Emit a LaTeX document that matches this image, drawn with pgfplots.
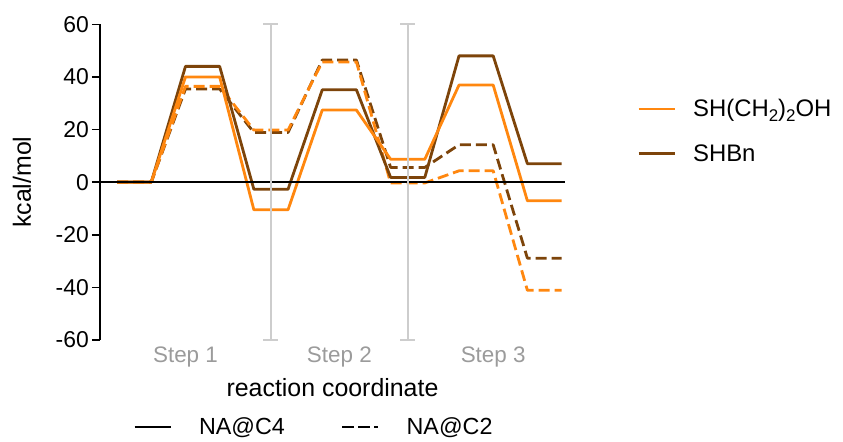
\documentclass[border=0pt]{standalone}
\usepackage{fontspec}
\setmainfont{Liberation Sans}
\usepackage{pgfplots}
\pgfplotsset{compat=1.18}
\definecolor{corange}{RGB}{255,135,15}
\definecolor{cbrown}{RGB}{125,68,10}
\definecolor{cgray}{RGB}{205,205,205}
\definecolor{tgray}{RGB}{155,155,155}
\newcommand\fTick{\fontsize{23}{26}\selectfont}
\newcommand\fStep{\fontsize{22.5}{26}\selectfont}
\newcommand\fLab{\fontsize{25}{29}\selectfont}
\newcommand\fLegA{\fontsize{24}{28}\selectfont}
\newcommand\fLegB{\fontsize{23.4}{27}\selectfont}
\newcommand\mysub[1]{\raisebox{-4.5bp}{\fontsize{17}{17}\selectfont #1}}
\begin{document}
\begin{tikzpicture}
\begin{axis}[
  name=main,
  at={(0,0)}, anchor=south west,
  scale only axis, width=465bp, height=315.7bp,
  xmin=-0.5, xmax=13.1, ymin=-60, ymax=60,
  clip=false,
  axis lines*=left,
  x axis line style={draw=none},
  y axis line style={line width=1.5bp, black},
  xtick={2,6.5,11}, xticklabels={Step 1,Step 2,Step 3},
  x tick style={draw=none},
  xticklabel style={text=tgray, font=\fStep, yshift=5bp},
  ytick={-60,-40,-20,0,20,40,60},
  yticklabels={-60,-40,-20,0,20,40,60},
  y tick style={line width=1.5bp, black},
  tick align=outside, major tick length=8bp,
  yticklabel style={font=\fTick, inner sep=0pt, xshift=-3bp},
  xlabel={reaction coordinate}, ylabel={kcal/mol},
  label style={font=\fLab},
  xlabel style={at={(axis description cs:0.5,-0.152)}, anchor=center},
  ylabel style={at={(axis description cs:-0.1677,0.5)}, anchor=center},
  legend style={at={(axis description cs:1.155,0.662)}, anchor=west, draw=none, fill=none,
    inner sep=0pt, font=\fLegA, row sep=26bp, nodes={inner sep=0pt},
    /tikz/every odd column/.append style={column sep=17bp}},
  legend image code/.code={\draw[#1] (0bp,0bp) -- (36bp,0bp);},
  legend cell align=left,
]
% SHBn, NA@C2
\addplot[cbrown, line width=2.8bp, dash pattern=on 11bp off 5bp, line join=round, forget plot] coordinates {
(0,0)(1,0)(2,35.4)(3,35.4)(4,18.9)(5,18.9)(6,46.4)(7,46.4)(8,5.6)(9,5.6)(10,14.2)(11,14.2)(12,-28.9)(13,-28.9)};
% SH(CH2)2OH, NA@C2
\addplot[corange, line width=2.8bp, dash pattern=on 11bp off 5bp, line join=round, forget plot] coordinates {
(0,0)(1,0)(2,36.4)(3,36.4)(4,19.8)(5,19.8)(6,45.7)(7,45.7)(8,-0.3)(9,-0.3)(10,4.3)(11,4.3)(12,-41.1)(13,-41.1)};
% SHBn, NA@C4
\addplot[cbrown, line width=2.8bp, line join=round, forget plot] coordinates {
(0,0)(1,0)(2,44)(3,44)(4,-2.7)(5,-2.7)(6,35.1)(7,35.1)(8,1.8)(9,1.8)(10,48)(11,48)(12,7)(13,7)};
% SH(CH2)2OH, NA@C4
\addplot[corange, line width=2.8bp, line join=round, forget plot] coordinates {
(0,0)(1,0)(2,40)(3,40)(4,-10.5)(5,-10.5)(6,27.4)(7,27.4)(8,8.7)(9,8.7)(10,36.9)(11,36.9)(12,-7.1)(13,-7.1)};
% zero line
\addplot[black, line width=1.3bp, forget plot] coordinates {(-0.5,0) (13.1,0)};
% step separators
\draw[cgray, line width=1.8bp] (axis cs:4.5,-60) -- (axis cs:4.5,60);
\draw[cgray, line width=1.8bp] ([xshift=-7.5bp]axis cs:4.5,60) -- ([xshift=7.5bp]axis cs:4.5,60);
\draw[cgray, line width=1.8bp] ([xshift=-7.5bp]axis cs:4.5,-60) -- ([xshift=7.5bp]axis cs:4.5,-60);
\draw[cgray, line width=1.8bp] (axis cs:8.5,-60) -- (axis cs:8.5,60);
\draw[cgray, line width=1.8bp] ([xshift=-7.5bp]axis cs:8.5,60) -- ([xshift=7.5bp]axis cs:8.5,60);
\draw[cgray, line width=1.8bp] ([xshift=-7.5bp]axis cs:8.5,-60) -- ([xshift=7.5bp]axis cs:8.5,-60);
\addlegendimage{corange, line width=2.8bp}
\addlegendentry{SH(CH\mysub{2})\mysub{2}OH}
\addlegendimage{cbrown, line width=2.8bp}
\addlegendentry{SHBn}
\end{axis}
\begin{axis}[
  at={(main.south west)}, anchor=south west,
  scale only axis, width=465bp, height=315.7bp,
  hide axis, xmin=0, xmax=1, ymin=0, ymax=1,
  legend columns=2,
  legend style={at={(axis description cs:0.071,-0.2756)}, anchor=west, draw=none, fill=none,
    inner sep=0pt, font=\fLegB, nodes={inner sep=0pt},
    /tikz/every odd column/.append style={column sep=27bp},
    /tikz/every even column/.append style={column sep=56bp}},
  legend image code/.code={\draw[#1] (0bp,0bp) -- (36bp,0bp);},
]
\addlegendimage{black, line width=2.8bp}
\addlegendentry{NA@C4}
\addlegendimage{black, line width=2.8bp, dash pattern=on 12bp off 4bp}
\addlegendentry{NA@C2}
\end{axis}
\pgfresetboundingbox
\path[use as bounding box] (main.south west) ++(-100bp,-102bp) rectangle ++(843bp,442bp);
\end{tikzpicture}
\end{document}
